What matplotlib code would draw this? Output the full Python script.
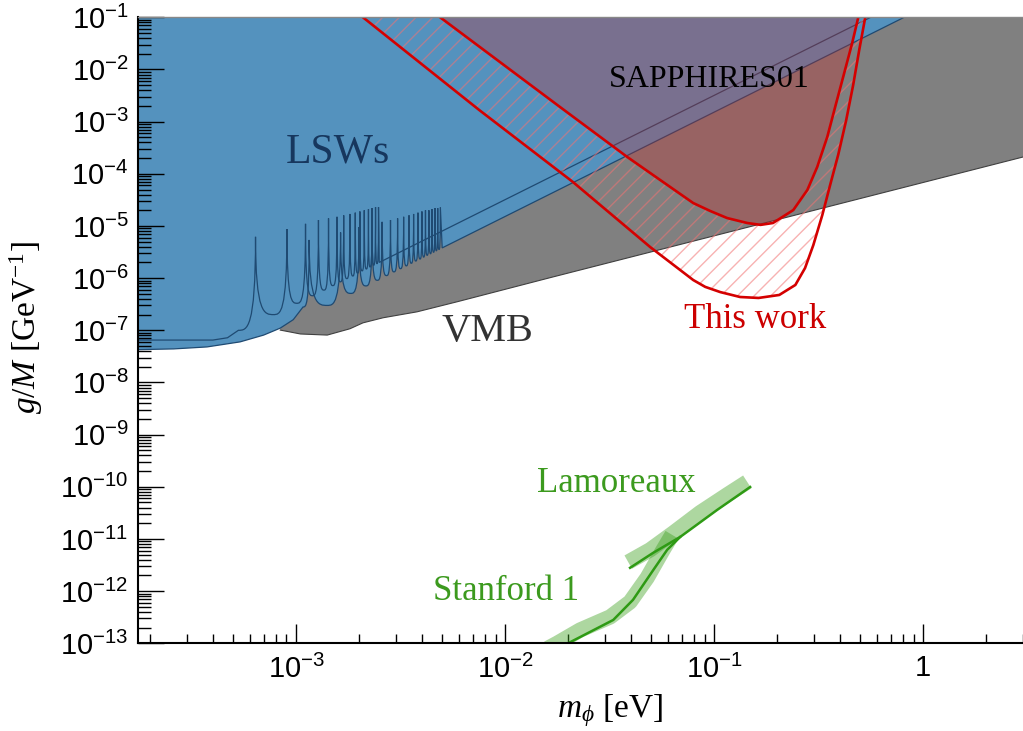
"""Exclusion plot in the (m_phi, g/M) plane: LSW, VMB, SAPPHIRES01, this work
and the Casimir / short-range force limits (Lamoreaux, Stanford 1)."""
import matplotlib

matplotlib.use("Agg")
import matplotlib.pyplot as plt
import numpy as np
from matplotlib.path import Path
from matplotlib.patches import PathPatch
from matplotlib.ticker import LogLocator, NullFormatter

plt.rcParams["font.family"] = ["Liberation Sans", "DejaVu Sans"]
plt.rcParams["mathtext.fontset"] = "custom"
plt.rcParams["mathtext.rm"] = "Liberation Serif"
plt.rcParams["mathtext.it"] = "Liberation Serif:italic"
plt.rcParams["hatch.linewidth"] = 1.0

# ---- values: m in eV, g/M in GeV^-1 ----
vmb_m = [8.4e-4, 1.05e-3, 1.41e-3, 1.81e-3, 2.09e-3, 2.61e-3, 3.79e-3, 5.89e-3, 1.64e-2, 3.0]
vmb_g = [1.01e-7, 8.5e-8, 8.1e-8, 1.07e-7, 1.39e-7, 1.74e-7, 2.26e-7, 3.52e-7, 1.02e-6, 2.1e-4]

# LSW curve A: flat part, resonance peaks, troughs between them, straight tail
lswA_flat_m = [1.5e-4, 4.0e-4, 4.7e-4, 5.3e-4]
lswA_flat_g = [6.5e-8, 6.5e-8, 7.2e-8, 1.0e-7]
lswA_peak_m = [6.4e-4, 9.05e-4, 1.11e-3, 1.28e-3, 1.43e-3, 1.57e-3, 1.69e-3, 1.81e-3,
               1.92e-3, 2.02e-3, 2.12e-3, 2.22e-3, 2.31e-3, 2.40e-3, 2.48e-3]
lswA_peak_g = [6.2e-6, 8.7e-6, 1.1e-5, 1.3e-5, 1.4e-5, 1.5e-5, 1.6e-5, 1.7e-5,
               1.8e-5, 1.9e-5, 2.0e-5, 2.1e-5, 2.2e-5, 2.3e-5, 2.3e-5]
lswA_min_m = [7.8e-4, 1.01e-3, 1.20e-3, 1.36e-3, 1.50e-3, 1.63e-3, 1.75e-3,
              1.87e-3, 1.97e-3, 2.07e-3, 2.17e-3, 2.26e-3, 2.35e-3, 2.44e-3]
lswA_min_g = [2.0e-7, 3.3e-7, 4.6e-7, 5.9e-7, 7.2e-7, 8.5e-7, 9.8e-7,
              1.1e-6, 1.25e-6, 1.38e-6, 1.5e-6, 1.64e-6, 1.77e-6, 1.9e-6]
lswA_tail_m = [2.5e-3, 0.56]
lswA_tail_g = [2.0e-6, 0.1]

# LSW curve B
lswB_flat_m = [1.5e-4, 2.6e-4, 3.75e-4, 5.4e-4, 7.0e-4, 8.4e-4, 9.7e-4, 1.08e-3]
lswB_flat_g = [4.2e-8, 4.4e-8, 4.8e-8, 6.0e-8, 8.1e-8, 1.1e-7, 1.6e-7, 2.8e-7]
lswB_peak_m = [1.155e-3, 1.633e-3, 2.0e-3, 2.31e-3, 2.58e-3, 2.83e-3, 3.06e-3, 3.27e-3, 3.47e-3,
               3.65e-3, 3.83e-3, 4.00e-3, 4.16e-3, 4.32e-3, 4.47e-3, 4.62e-3, 4.76e-3, 4.90e-3]
lswB_peak_g = [5.4e-6, 7.5e-6, 9.5e-6, 1.1e-5, 1.2e-5, 1.3e-5, 1.4e-5, 1.5e-5, 1.6e-5,
               1.7e-5, 1.8e-5, 1.9e-5, 2.0e-5, 2.0e-5, 2.1e-5, 2.2e-5, 2.2e-5, 2.3e-5]
lswB_min_m = [1.41e-3, 1.83e-3, 2.16e-3, 2.45e-3, 2.71e-3, 2.94e-3, 3.16e-3, 3.37e-3, 3.56e-3,
              3.74e-3, 3.92e-3, 4.08e-3, 4.24e-3, 4.40e-3, 4.55e-3, 4.69e-3, 4.83e-3]
lswB_min_g = [3.0e-7, 5.1e-7, 7.1e-7, 9.1e-7, 1.12e-6, 1.32e-6, 1.52e-6, 1.72e-6, 1.93e-6,
              2.13e-6, 2.33e-6, 2.54e-6, 2.74e-6, 2.94e-6, 3.14e-6, 3.35e-6, 3.55e-6]
lswB_tail_m = [5.0e-3, 0.81]
lswB_tail_g = [3.8e-6, 0.1]

# This work: upper (SAPPHIRES01) and lower red contours
upper_m = [4.89e-3, 1.83e-2, 3.84e-2, 5.52e-2, 7.94e-2, 9.57e-2, 0.1153, 0.144, 0.1667,
           0.191, 0.239, 0.279, 0.311, 0.3475, 0.379, 0.414, 0.457, 0.489]
upper_g = [0.1, 1.91e-3, 2.1e-4, 7.6e-5, 2.75e-5, 1.94e-5, 1.42e-5, 1.14e-5, 1.05e-5,
           1.14e-5, 2.02e-5, 4.9e-5, 1.35e-4, 5.1e-4, 1.91e-3, 7.2e-3, 3.2e-2, 0.1]
lower_m = [2.09e-3, 7.52e-3, 2.11e-2, 4.94e-2, 7.94e-2, 9.06e-2, 0.107, 0.133, 0.163,
           0.2048, 0.2445, 0.272, 0.298, 0.329, 0.359, 0.392, 0.428, 0.462, 0.494, 0.528]
lower_g = [0.1, 1.67e-3, 6.97e-5, 3.95e-6, 9.2e-7, 6.8e-7, 5.4e-7, 4.35e-7, 4.17e-7,
           4.76e-7, 7.4e-7, 1.56e-6, 4.3e-6, 1.62e-5, 6.2e-5, 2.32e-4, 1.07e-3, 5.0e-3,
           2.36e-2, 0.1]

# short-range force limits
stanford_m = [0.0200, 0.0329, 0.0409, 0.0510, 0.0596, 0.0687]
stanford_g = [1.0e-13, 2.8e-13, 6.8e-13, 2.5e-12, 6.2e-12, 1.09e-11]
stanford_band_m = [0.0160, 0.01775, 0.02286, 0.0318, 0.0396, 0.0478, 0.0570, 0.0629]
stanford_band_g = [8.0e-14, 1.0e-13, 1.8e-13, 3.2e-13, 6.2e-13, 1.8e-12, 6.2e-12, 1.2e-11]
lamoreaux_m = [0.0396, 0.0510, 0.0687, 0.1033, 0.1486]
lamoreaux_g = [2.8e-12, 5.4e-12, 1.09e-11, 3.6e-11, 9.9e-11]
lamoreaux_band_m = [0.0388, 0.0494, 0.0637, 0.0857, 0.1153, 0.1439]
lamoreaux_band_g = [3.6e-12, 6.2e-12, 1.3e-11, 3.2e-11, 7.0e-11, 1.24e-10]

xtick_vals = [1e-3, 1e-2, 1e-1, 1]
xtick_labels = [r"$\mathdefault{10^{-3}}$", r"$\mathdefault{10^{-2}}$",
                r"$\mathdefault{10^{-1}}$", "1"]
ytick_vals = [10.0 ** k for k in range(-13, 0)]
ytick_labels = [r"$\mathdefault{10^{%d}}$" % k for k in range(-13, 0)]

X_MIN, X_MAX = 1.76e-4, 3.0
Y_MIN, Y_MAX = 1e-13, 1e-1


def resonance_verts(flat_m, flat_g, peak_m, peak_g, min_m, min_g, tail_m, tail_g):
    """Vertices/codes of an LSW curve: sharp resonance spikes with rounded troughs
    (cubic Bezier segments laid out in log-log space)."""
    verts = list(zip(flat_m, flat_g))
    codes = [Path.MOVETO] + [Path.LINETO] * (len(flat_m) - 1)
    lx, ly = np.log10(flat_m[-1]), np.log10(flat_g[-1])
    for i in range(len(peak_m)):
        px, py = np.log10(peak_m[i]), np.log10(peak_g[i])
        ctrl = [((lx + px) / 2, ly), (px, ly), (px, py)]
        verts += [(10 ** a, 10 ** b) for a, b in ctrl]
        codes += [Path.CURVE4] * 3
        if i < len(min_m):
            mx, my = np.log10(min_m[i]), np.log10(min_g[i])
            ctrl = [(px, my), ((px + mx) / 2, my), (mx, my)]
            verts += [(10 ** a, 10 ** b) for a, b in ctrl]
            codes += [Path.CURVE4] * 3
            lx, ly = mx, my
    verts += list(zip(tail_m, tail_g))
    codes += [Path.LINETO] * len(tail_m)
    return verts, codes


def main():
    curves = [
        resonance_verts(lswA_flat_m, lswA_flat_g, lswA_peak_m, lswA_peak_g,
                        lswA_min_m, lswA_min_g, lswA_tail_m, lswA_tail_g),
        resonance_verts(lswB_flat_m, lswB_flat_g, lswB_peak_m, lswB_peak_g,
                        lswB_min_m, lswB_min_g, lswB_tail_m, lswB_tail_g),
    ]

    fig = plt.figure(figsize=(10.23, 7.31), dpi=100)
    ax = fig.add_axes([0.1352, 0.12, 0.8648, 0.8563])
    ax.set_xscale("log")
    ax.set_yscale("log")
    ax.set_xlim(X_MIN, X_MAX)
    ax.set_ylim(Y_MIN, Y_MAX)

    blue = "#5492be"
    navy = "#1f4a72"
    red = "#d40000"
    green = "#2e9a14"

    # VMB (grey) – everything above the VMB bound
    ax.fill(vmb_m + [vmb_m[-1], vmb_m[0]], vmb_g + [Y_MAX, Y_MAX],
            color="#808080", lw=0, zorder=1.0)
    ax.plot(vmb_m, vmb_g, color="#404040", lw=0.8, zorder=1.05)

    # LSWs (blue) – union of the regions above the two curves
    for verts, codes in curves:
        fv = verts + [(verts[0][0], Y_MAX), verts[0]]
        fc = codes + [Path.LINETO, Path.CLOSEPOLY]
        ax.add_patch(PathPatch(Path(fv, fc), facecolor=blue, lw=0, zorder=1.1))
    for verts, codes in curves:
        ax.add_patch(PathPatch(Path(verts, codes), facecolor="none", edgecolor=navy,
                               lw=0.9, zorder=1.2))

    # SAPPHIRES01 excluded region (inside the upper contour)
    ax.fill(upper_m, upper_g, color="#d02323", alpha=0.3, lw=0, zorder=1.3)
    # hatched band between the two contours
    ax.fill(lower_m + upper_m[::-1], lower_g + upper_g[::-1],
            facecolor="none", edgecolor=(0.95, 0.45, 0.45, 0.55), hatch="//",
            lw=0, zorder=1.4)
    ax.plot(upper_m, upper_g, color=red, lw=1.9, zorder=1.5)
    ax.plot(lower_m, lower_g, color=red, lw=1.9, zorder=1.5)

    # Casimir / short-range force limits
    for m, g in ((stanford_band_m, stanford_band_g), (lamoreaux_band_m, lamoreaux_band_g)):
        ax.plot(m, g, color="#3ca01e", alpha=0.42, lw=11,
                solid_capstyle="butt", solid_joinstyle="round", zorder=1.6)
    ax.plot(stanford_m, stanford_g, color=green, lw=1.8, zorder=1.7)
    ax.plot(lamoreaux_m, lamoreaux_g, color=green, lw=1.8, zorder=1.7)

    serif = "Liberation Serif"
    ax.text(1.59e-3, 2.6e-4, "LSWs", color="#17375e", fontsize=30,
            family=serif, ha="center", va="center", zorder=3)
    ax.text(8.2e-3, 9.3e-8, "VMB", color="#333333", fontsize=29,
            family=serif, ha="center", va="center", zorder=3)
    ax.text(0.0946, 6.3e-3, "SAPPHIRES01", color="black", fontsize=23,
            family=serif, ha="center", va="center", zorder=3)
    ax.text(0.157, 1.58e-7, "This work", color="#cc0000", fontsize=25,
            family=serif, ha="center", va="center", zorder=3)
    ax.text(0.034, 1.18e-10, "Lamoreaux", color="#3c9a1e", fontsize=25,
            family=serif, ha="center", va="center", zorder=3)
    ax.text(0.0101, 1.0e-12, "Stanford 1", color="#3c9a1e", fontsize=25,
            family=serif, ha="center", va="center", zorder=3)

    ax.set_xticks(xtick_vals, xtick_labels)
    ax.set_yticks(ytick_vals, ytick_labels)
    ax.xaxis.set_minor_locator(LogLocator(10, subs=np.arange(2, 10), numticks=60))
    ax.yaxis.set_minor_locator(LogLocator(10, subs=np.arange(2, 10), numticks=60))
    ax.xaxis.set_minor_formatter(NullFormatter())
    ax.yaxis.set_minor_formatter(NullFormatter())
    ax.tick_params(axis="x", which="major", direction="in", length=13.5, width=1.0,
                   labelsize=21, pad=8, top=False)
    ax.tick_params(axis="x", which="minor", direction="in", length=6.5, width=1.0, top=False)
    ax.tick_params(axis="y", which="major", direction="in", length=18.5, width=1.0,
                   labelsize=21, pad=7, right=False)
    ax.tick_params(axis="y", which="minor", direction="in", length=9.4, width=1.0, right=False)

    for side in ("left", "bottom"):
        ax.spines[side].set_linewidth(1.5)
    ax.spines["right"].set_visible(False)
    ax.spines["top"].set_color("#888888")
    ax.spines["top"].set_linewidth(1.0)

    fig.text(610 / 1023, 1 - 711 / 731, r"$m_{\phi}$ [eV]", family=serif,
             fontsize=24, ha="center", va="center")
    fig.text(26 / 1023, 1 - 328 / 731, r"$g/M$ [GeV$^{\mathdefault{-1}}$]",
             family=serif, fontsize=24, rotation=90, ha="center", va="center")

    fig.savefig("out.png", dpi=100, facecolor="white")
    plt.close(fig)


if __name__ == "__main__":
    main()
